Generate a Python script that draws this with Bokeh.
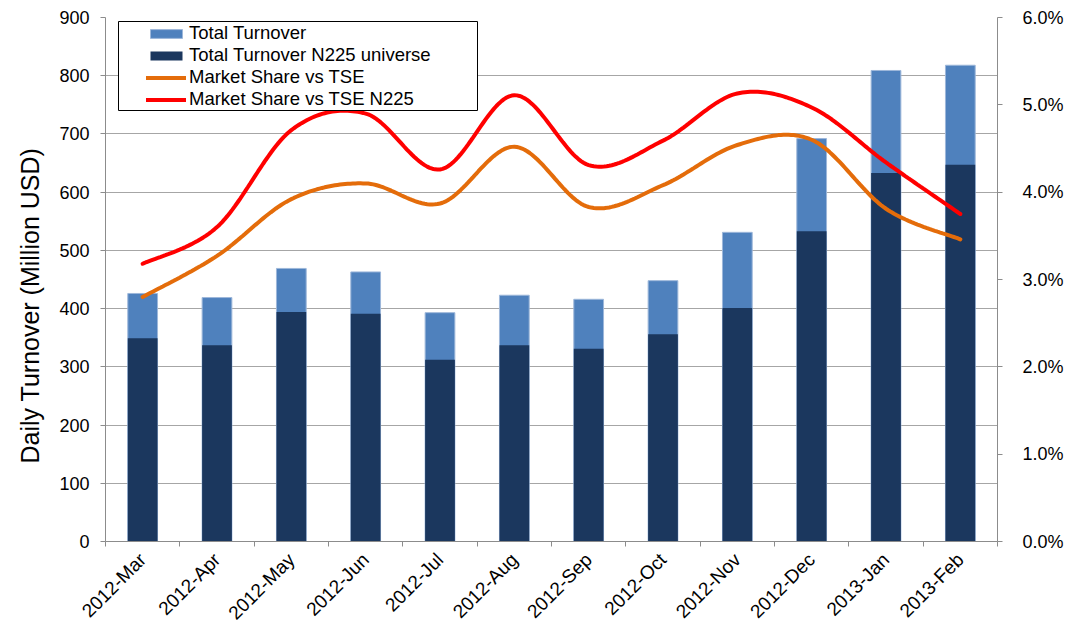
import numpy as np
from bokeh.plotting import figure
from bokeh.models import (Range1d, LinearAxis, FixedTicker, NumeralTickFormatter, Title,
                          Legend, LegendItem, BoxAnnotation, CustomJSTickFormatter)
from bokeh.embed import file_html
from bokeh.resources import INLINE

# ---------------- data ----------------
months = ["2012-Mar", "2012-Apr", "2012-May", "2012-Jun", "2012-Jul", "2012-Aug",
          "2012-Sep", "2012-Oct", "2012-Nov", "2012-Dec", "2013-Jan", "2013-Feb"]
total_turnover = [426, 419, 469, 463, 393, 423, 416, 448, 531, 692, 809, 818]
n225_turnover = [349, 337, 394, 391, 312, 337, 331, 356, 401, 533, 633, 647]
share_tse = [2.80, 3.27, 3.92, 4.10, 3.87, 4.52, 3.83, 4.08, 4.54, 4.60, 3.81, 3.46]
share_tse_n225 = [3.18, 3.60, 4.71, 4.90, 4.26, 5.11, 4.31, 4.59, 5.13, 4.97, 4.34, 3.75]
left_ticks = [0, 100, 200, 300, 400, 500, 600, 700, 800, 900]
right_ticks = [0.0, 0.01, 0.02, 0.03, 0.04, 0.05, 0.06]

LIGHT = "#4F81BD"
DARK = "#1B375E"
ORANGE = "#E46C0A"
RED = "#FF0000"
GRID = "#A6A6A6"
AXIS = "#8C8C8C"
FONT = "Liberation Sans"

xc = np.arange(len(months)) + 0.5


def smooth(xs, ys, n=30):
    """Excel-style smoothed line: cubic Bezier through the data points."""
    xs = np.asarray(xs, float)
    ys = np.asarray(ys, float)
    px = np.concatenate([[xs[0]], xs, [xs[-1]]])
    py = np.concatenate([[ys[0]], ys, [ys[-1]]])
    out_x, out_y = [], []
    t = np.linspace(0, 1, n)
    for i in range(1, len(px) - 2):
        p0x, p0y = px[i], py[i]
        p3x, p3y = px[i + 1], py[i + 1]
        c1x = p0x + (px[i + 1] - px[i - 1]) / 6
        c1y = p0y + (py[i + 1] - py[i - 1]) / 6
        c2x = p3x - (px[i + 2] - px[i]) / 6
        c2y = p3y - (py[i + 2] - py[i]) / 6
        bx = (1 - t) ** 3 * p0x + 3 * (1 - t) ** 2 * t * c1x + 3 * (1 - t) * t ** 2 * c2x + t ** 3 * p3x
        by = (1 - t) ** 3 * p0y + 3 * (1 - t) ** 2 * t * c1y + 3 * (1 - t) * t ** 2 * c2y + t ** 3 * p3y
        out_x.extend(bx if i == 1 else bx[1:])
        out_y.extend(by if i == 1 else by[1:])
    return out_x, out_y


p = figure(frame_width=892, frame_height=524,
           x_range=Range1d(0, len(months)), y_range=Range1d(0, 900),
           output_backend="svg", toolbar_location=None,
           min_border_left=105, min_border_right=76, min_border_top=17, min_border_bottom=86)
p.outline_line_color = None
p.background_fill_color = "white"
p.border_fill_color = "white"
p.extra_y_ranges = {"pct": Range1d(0, 0.06)}

# bars
r_total = p.vbar(x=xc, top=total_turnover, width=0.4, fill_color=LIGHT,
                 line_color="#9DB7DA", line_width=1)
r_n225 = p.vbar(x=xc, top=n225_turnover, width=0.4, fill_color=DARK, line_color=None)

# smoothed lines (right axis)
sx1, sy1 = smooth(xc, np.array(share_tse) / 100)
sx2, sy2 = smooth(xc, np.array(share_tse_n225) / 100)
r_tse = p.line(sx1, sy1, y_range_name="pct", line_color=ORANGE, line_width=4, line_cap="round")
r_tse225 = p.line(sx2, sy2, y_range_name="pct", line_color=RED, line_width=4, line_cap="round")

# left axis
ya = p.yaxis[0]
ya.ticker = FixedTicker(ticks=left_ticks)
ya.major_label_text_font = FONT
ya.major_label_text_font_size = "18px"
ya.major_label_text_color = "black"
ya.major_label_standoff = 11
ya.major_tick_out = 5
ya.major_tick_in = 0
ya.minor_tick_out = 0
ya.minor_tick_in = 0
ya.axis_line_color = AXIS
ya.major_tick_line_color = AXIS

# left axis title (placed slightly below the frame centre, as in the original)
ytitle = Title(text="Daily Turnover (Million USD)", align="left", offset=78,
               text_font=FONT, text_font_size="25px", text_font_style="normal",
               text_color="black", standoff=26)
p.add_layout(ytitle, "left")

# right axis
ra = LinearAxis(y_range_name="pct", ticker=FixedTicker(ticks=right_ticks),
                formatter=NumeralTickFormatter(format="0.0%"))
ra.major_label_text_font = FONT
ra.major_label_text_font_size = "18px"
ra.major_label_text_color = "black"
ra.major_label_standoff = 20
ra.major_tick_out = 5
ra.major_tick_in = 0
ra.minor_tick_out = 0
ra.minor_tick_in = 0
ra.axis_line_color = AXIS
ra.major_tick_line_color = AXIS
p.add_layout(ra, "right")

# x axis
xa = p.xaxis[0]
xa.ticker = FixedTicker(ticks=list(xc), minor_ticks=list(range(len(months) + 1)))
xa.formatter = CustomJSTickFormatter(args=dict(labels=months),
                                     code="const i = Math.round(tick - 0.5); return labels[i] ?? '';")
xa.major_label_orientation = np.pi / 4
xa.major_label_text_font = FONT
xa.major_label_text_font_size = "19px"
xa.major_label_text_color = "black"
xa.major_label_standoff = 10
xa.major_tick_out = 0
xa.major_tick_in = 0
xa.minor_tick_out = 5
xa.minor_tick_in = 0
xa.minor_tick_line_color = AXIS
xa.axis_line_color = AXIS

# grid
p.xgrid.visible = False
p.ygrid.ticker = FixedTicker(ticks=left_ticks)
p.ygrid.grid_line_color = GRID
p.ygrid.grid_line_width = 1

# legend frame + legend
frame_box = BoxAnnotation(left=13, right=372, top=520, bottom=431,
                          left_units="screen", right_units="screen",
                          top_units="screen", bottom_units="screen",
                          fill_color="white", fill_alpha=1.0,
                          line_color="black", line_width=1, line_alpha=1.0)
p.add_layout(frame_box)

legend = Legend(items=[
    LegendItem(label="Total Turnover", renderers=[r_total]),
    LegendItem(label="Total Turnover N225 universe", renderers=[r_n225]),
    LegendItem(label="Market Share vs TSE", renderers=[r_tse]),
    LegendItem(label="Market Share vs TSE N225", renderers=[r_tse225]),
], location=(41, 431), padding=0, margin=0, spacing=0, label_height=21,
    glyph_height=11, glyph_width=40, label_standoff=3,
    border_line_alpha=0, background_fill_alpha=0,
    label_text_font=FONT, label_text_font_size="18.5px", label_text_color="black")
p.add_layout(legend)

open("out.html", "w").write(file_html(p, INLINE))
